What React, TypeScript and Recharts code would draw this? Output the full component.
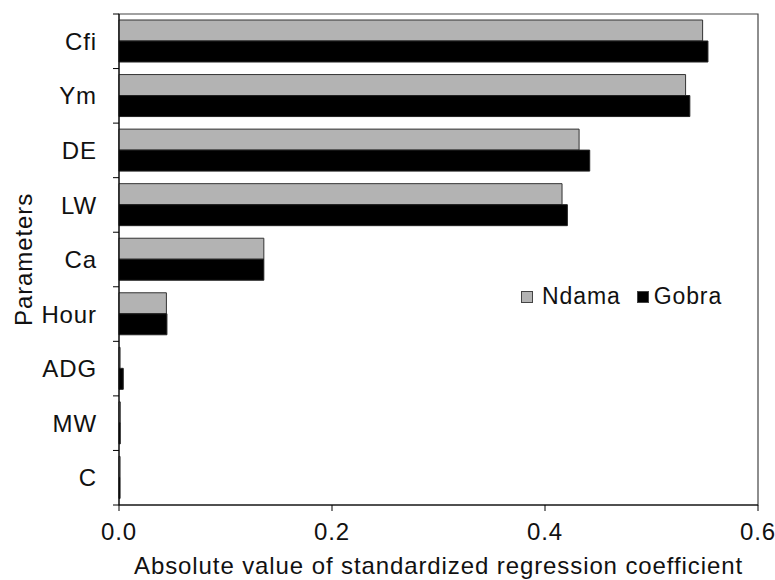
import { Bar, BarChart, Legend, ReferenceArea, XAxis, YAxis } from 'recharts'

const categories = ['Cfi', 'Ym', 'DE', 'LW', 'Ca', 'Hour', 'ADG', 'MW', 'C']
const ndama = [0.548, 0.532, 0.432, 0.416, 0.136, 0.0445, 0.001, 0.0012, 0.001]
const gobra = [0.553, 0.536, 0.442, 0.421, 0.136, 0.045, 0.004, 0.0012, 0.001]
const xTicks = [0, 0.2, 0.4, 0.6]

const data = categories.map((name, i) => ({ name, ndama: ndama[i], gobra: gobra[i] }))

const FONT = '"Liberation Sans", Arial, Helvetica, sans-serif'
const W = 775
const H = 580
const TOP = 14
const LEFT = 119
const XAXIS_H = 75
const BAND = (H - XAXIS_H - TOP) / categories.length
const FS = 24
const LS = 0.9

function YTick(props: any) {
  const { x, y, payload, index } = props
  const half = BAND / 2
  return (
    <g>
      <line x1={LEFT - 6} x2={LEFT} y1={y - half} y2={y - half} stroke="#000" />
      {index === categories.length - 1 && (
        <line x1={LEFT - 6} x2={LEFT} y1={y + half} y2={y + half} stroke="#000" />
      )}
      <text x={x} y={y} dy="0.36em" textAnchor="end" fontSize={FS} letterSpacing={LS} fontFamily={FONT} fill="#111">
        {payload.value}
      </text>
    </g>
  )
}

function LegendBox() {
  const items = [
    { name: 'Ndama', color: '#b3b3b3', gap: 9 },
    { name: 'Gobra', color: '#000', gap: 5 },
  ]
  return (
    <div style={{ display: 'flex', alignItems: 'center', fontFamily: FONT, fontSize: 23, letterSpacing: LS, color: '#111' }}>
      {items.map(it => (
        <span key={it.name} style={{ display: 'flex', alignItems: 'center', marginRight: 16 }}>
          <span style={{ width: 10, height: 10, background: it.color, border: '1px solid #444', marginRight: it.gap }} />
          {it.name}
        </span>
      ))}
    </div>
  )
}

export default function App() {
  return (
    <div style={{ width: W, height: H, background: '#fff' }}>
      <style>{'body{margin:0}'}</style>
      <BarChart
        width={W}
        height={H}
        data={data}
        layout="vertical"
        margin={{ top: TOP, right: 17, bottom: 0, left: 0 }}
        barCategoryGap="11%"
        barGap={0}
      >
        <XAxis
          type="number"
          domain={[0, 0.6]}
          ticks={xTicks}
          tickFormatter={(v: number) => v.toFixed(1)}
          height={XAXIS_H}
          tickSize={6}
          tickMargin={12}
          stroke="#000"
          tick={{ fontSize: FS, fontFamily: FONT, fill: '#111', letterSpacing: LS }}
          label={{
            value: 'Absolute value of standardized regression coefficient',
            position: 'insideBottom',
            offset: 6,
            fontSize: FS,
            fontFamily: FONT,
            fill: '#111',
            letterSpacing: LS,
          }}
        />
        <YAxis
          type="category"
          dataKey="name"
          width={LEFT}
          tickLine={false}
          tickMargin={22}
          tickSize={0}
          stroke="#000"
          tick={<YTick />}
          interval={0}
          label={{
            content: (p: any) => {
              const vb = p.viewBox
              const cx = vb.x + 23
              const cy = vb.y + vb.height / 2
              return (
                <text
                  x={cx}
                  y={cy}
                  transform={`rotate(-90 ${cx} ${cy})`}
                  textAnchor="middle"
                  dominantBaseline="central"
                  fontSize={FS}
                  letterSpacing={LS}
                  fontFamily={FONT}
                  fill="#111"
                >
                  Parameters
                </text>
              )
            },
          }}
        />
        <Legend
          layout="horizontal"
          verticalAlign="middle"
          align="center"
          wrapperStyle={{ left: 521, top: 283, width: 'auto', right: 'auto' }}
          content={() => <LegendBox />}
        />
        <Bar dataKey="ndama" name="Ndama" fill="#b3b3b3" stroke="#333" strokeWidth={1} isAnimationActive={false} />
        <Bar dataKey="gobra" name="Gobra" fill="#000" stroke="#222" strokeWidth={1} isAnimationActive={false} />
        <ReferenceArea x1={0} x2={0.6} fill="none" fillOpacity={0} stroke="#444" strokeWidth={1.2} />
      </BarChart>
    </div>
  )
}
